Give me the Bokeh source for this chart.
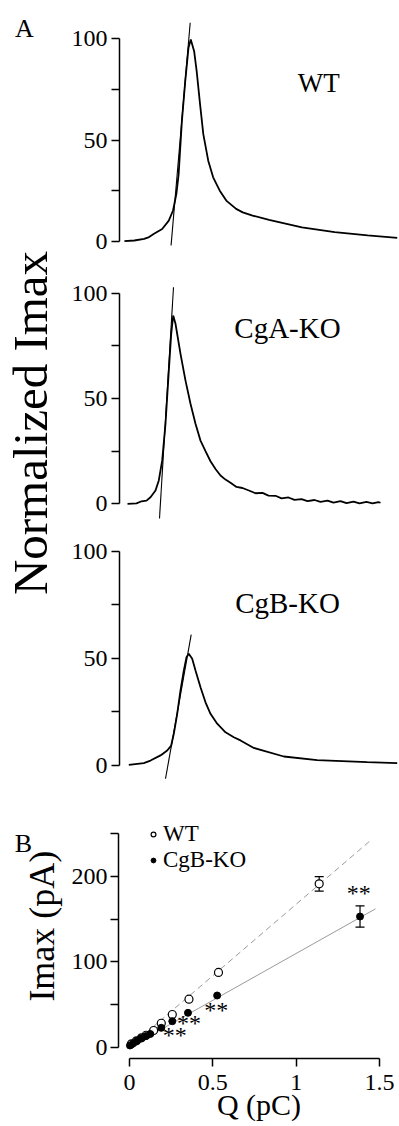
import math
from bokeh.plotting import figure
from bokeh.layouts import column, row
from bokeh.models import (Range1d, FixedTicker, ColumnDataSource, Whisker, TeeHead,
                          Legend, LegendItem)
from bokeh.core.properties import value
from bokeh.embed import file_html
from bokeh.resources import INLINE

FONT = "Liberation Serif"

# ---------------- Panel A: averaged normalized spikes (time in ms, % of max) -------------
wt_t = [0.5, 1.5, 2.5, 3.0, 3.5, 4.33, 5.0, 5.43, 5.77, 6.0, 6.33, 6.67, 7.0, 7.23, 7.57,
        7.83, 8.17, 8.5, 9.0, 9.5, 10.17, 10.83, 11.83, 12.5, 13.5, 15.17, 18.5, 21.83,
        25.17, 28.17]
wt_i = [0.2, 0.5, 1.3, 2.2, 3.8, 6.2, 10.3, 15.3, 23.5, 33.3, 59.6, 79.3, 95.7, 99.8, 94.0,
        84.0, 67.8, 53.0, 39.9, 31.7, 25.1, 20.2, 16.1, 14.4, 12.8, 10.7, 7.0, 4.6,
        3.0, 1.8]
wt_tan_t = [5.23, 7.17]
wt_tan_i = [-2.0, 108.0]

cga_t = [1.2, 2.1, 2.6, 3.1, 3.5, 4.0, 4.33, 4.67, 5.0, 5.33, 5.57, 5.77, 6.0, 6.5, 7.0,
         7.5, 8.0, 8.5, 9.0, 9.5, 10.0, 10.5, 11.0, 11.5, 12.1, 12.7, 13.4, 14.0, 14.7,
         15.3, 16.0, 16.6, 17.3, 17.9, 18.6, 19.2, 19.9, 20.5, 21.2, 21.8, 22.5, 23.1,
         23.8, 24.4, 25.1, 25.7, 26.3, 26.5]
cga_i = [0.0, 0.2, 1.2, 1.5, 3.1, 6.3, 11.1, 20.6, 38.0, 63.0, 80.7, 89.4, 85.5, 71.2, 58.5,
         47.5, 38.0, 30.0, 25.0, 20.2, 16.5, 13.4, 11.5, 10.0, 8.0, 7.5, 6.2, 5.0, 5.2,
         3.9, 3.8, 2.6, 3.0, 1.9, 2.2, 1.3, 1.8, 0.9, 1.5, 0.6, 1.3, 0.3,
         1.0, 0.2, 0.9, 0.2, 0.8, 0.5]
cga_tan_t = [4.4, 5.8]
cga_tan_i = [-7.0, 102.8]

cgb_t = [1.33, 2.83, 3.5, 4.5, 5.17, 5.57, 5.83, 6.17, 6.5, 6.83, 7.1, 7.33, 7.67, 8.0, 8.5,
         9.0, 9.5, 10.17, 11.0, 11.83, 12.5, 13.83, 16.83, 20.17, 25.17, 28.17]
cgb_i = [0.3, 1.1, 2.3, 4.7, 7.0, 9.3, 14.8, 24.1, 35.0, 44.3, 50.5, 52.1, 49.8, 44.3, 36.5,
         29.5, 24.1, 19.5, 15.5, 13.2, 11.7, 8.2, 4.2, 2.5, 1.6, 1.1]
cgb_tan_t = [5.0, 7.57]
cgb_tan_i = [-6.2, 61.1]

a_ticks = [0, 50, 100]
a_minor = [25, 75]

# ---------------- Panel B: Imax vs Q -------------
wt_q = [0.012, 0.042, 0.072, 0.10, 0.145, 0.191, 0.257, 0.357, 0.534, 1.138]
wt_imax = [4.0, 7.5, 11.0, 14.0, 19.6, 28.1, 38.3, 56.3, 87.6, 191.5]
wt_sem = [0, 0, 0, 0, 0, 0, 0, 0, 0, 8.5]
kb_q = [0.003, 0.022, 0.045, 0.07, 0.098, 0.125, 0.191, 0.257, 0.351, 0.526, 1.383]
kb_imax = [2.0, 4.5, 7.5, 10.5, 13.0, 15.5, 22.7, 30.5, 40.3, 60.6, 153.2]
kb_sem = [0, 0, 0, 0, 0, 0, 0, 0, 0, 0, 12.5]
fit_wt_q = [0.0, 1.45]
fit_wt_i = [0.0, 243.0]
fit_kb_q = [0.0, 1.476]
fit_kb_i = [0.0, 162.2]
sig_q = [1.376, 0.52, 0.357, 0.271]
sig_i = [181.7, 45.0, 29.3, 15.7]
sig_text = ["**", "**", "**", "**"]
b_xticks = [0, 0.5, 1, 1.5]
b_xlabels = ["0", "0.5", "1", "1.5"]
b_yticks = [0, 100, 200]
b_yminor = [50, 150, 250]


def style_axis(ax, size="24px", standoff=4):
    ax.axis_line_color = "black"
    ax.axis_line_width = 1.5
    ax.major_tick_line_color = "black"
    ax.minor_tick_line_color = "black"
    ax.major_tick_line_width = 1.5
    ax.minor_tick_line_width = 1.5
    ax.major_tick_in = 0
    ax.minor_tick_in = 0
    ax.major_tick_out = 8
    ax.minor_tick_out = 8
    ax.major_label_text_font = FONT
    ax.major_label_text_font_size = size
    ax.major_label_text_color = "black"
    ax.major_label_standoff = standoff


def bare(p):
    p.grid.visible = False
    p.outline_line_color = None
    p.background_fill_color = "white"
    p.border_fill_color = "white"


def trace_fig(t, i, tt, ti, label, lab_t, lab_i, lab_size, height, ylo, yhi, left, xlo):
    p = figure(width=336, height=height, x_range=Range1d(xlo, 28.4),
               y_range=Range1d(ylo, yhi), toolbar_location=None, output_backend="svg",
               x_axis_location=None, y_axis_location="left",
               min_border_left=left, min_border_right=0, min_border_top=0,
               min_border_bottom=0)
    bare(p)
    ax = p.yaxis[0]
    ax.ticker = FixedTicker(ticks=a_ticks, minor_ticks=a_minor)
    ax.bounds = (0, 100)
    style_axis(ax)
    p.line(tt, ti, line_color="black", line_width=1.1)
    p.line(t, i, line_color="black", line_width=1.8)
    p.text(x=[lab_t], y=[lab_i], text=[label], text_font=value(FONT),
           text_font_size=value(lab_size), text_align="center",
           text_baseline="middle", text_color="black")
    return p


pA1 = trace_fig(wt_t, wt_i, wt_tan_t, wt_tan_i, "WT", 20.2, 78.5, "27px",
                262, -10.37, 119.01, 52, 0.0)
pA2 = trace_fig(cga_t, cga_i, cga_tan_t, cga_tan_i, "CgA-KO", 17.2, 83.7, "29px",
                268, -12.68, 114.58, 56, 0.4)
pA3 = trace_fig(cgb_t, cgb_i, cgb_tan_t, cgb_tan_i, "CgB-KO", 17.2, 75.6, "29px",
                260, -11.67, 109.66, 56, 0.4)

labA = figure(width=63, height=790, x_range=Range1d(0, 63), y_range=Range1d(0, 790),
              toolbar_location=None, output_backend="svg", x_axis_location=None,
              y_axis_location=None, min_border=0)
bare(labA)
labA.text(x=[24], y=[762.5], text=["A"], text_font=value(FONT), text_font_size=value("26px"),
          text_align="center", text_baseline="middle", text_color="black")
labA.text(x=[29.5], y=[367.5], text=["Normalized Imax"], angle=math.pi / 2,
          text_font=value(FONT), text_font_size=value("49px"), text_align="center",
          text_baseline="middle", text_color="black")

# ---------------- Panel B figure -------------
pB = figure(width=331, height=336, x_range=Range1d(-0.0657, 1.6198),
            y_range=Range1d(-13.25, 271.6), toolbar_location=None, output_backend="svg",
            min_border_left=49, min_border_right=0, min_border_top=25,
            min_border_bottom=68)
bare(pB)
xa = pB.xaxis[0]
xa.ticker = FixedTicker(ticks=b_xticks)
xa.bounds = (0, 1.5)
xa.major_label_overrides = {float(k): s for k, s in zip(b_xticks, b_xlabels)}
style_axis(xa, standoff=8)
xa.axis_label = "Q (pC)"
xa.axis_label_text_font = FONT
xa.axis_label_text_font_size = "30px"
xa.axis_label_text_font_style = "normal"
xa.axis_label_text_color = "black"
xa.axis_label_standoff = -5

ya = pB.yaxis[0]
ya.ticker = FixedTicker(ticks=b_yticks, minor_ticks=b_yminor)
ya.bounds = (0, 250)
style_axis(ya, standoff=3)

pB.line(fit_wt_q, fit_wt_i, line_color="#9a9a9a", line_width=1, line_dash="6 4")
pB.line(fit_kb_q, fit_kb_i, line_color="#9a9a9a", line_width=1)

for qs, ims, sems in ((wt_q, wt_imax, wt_sem), (kb_q, kb_imax, kb_sem)):
    idx = [k for k, s in enumerate(sems) if s > 0]
    src = ColumnDataSource(dict(q=[qs[k] for k in idx],
                                up=[ims[k] + sems[k] for k in idx],
                                lo=[ims[k] - sems[k] for k in idx]))
    pB.add_layout(Whisker(base="q", upper="up", lower="lo", source=src, dimension="height",
                          line_color="black", line_width=1.2,
                          upper_head=TeeHead(size=9, line_color="black", line_width=1.2),
                          lower_head=TeeHead(size=9, line_color="black", line_width=1.2)))

r_wt = pB.scatter(wt_q, wt_imax, marker="circle", size=8, fill_color="white",
                  line_color="black", line_width=1.2)
r_kb = pB.scatter(kb_q, kb_imax, marker="circle", size=7, fill_color="black",
                  line_color="black", line_width=1)
pB.text(x=sig_q, y=sig_i, text=sig_text, text_font=value(FONT),
        text_font_size=value("24px"), text_align="center", text_baseline="middle",
        y_offset=1, text_color="black")

legend = Legend(items=[LegendItem(label="WT", renderers=[r_wt]),
                       LegendItem(label="CgB-KO", renderers=[r_kb])],
                location=(29, 185), padding=0, spacing=0, margin=0,
                border_line_color=None, background_fill_alpha=0,
                glyph_width=12, glyph_height=24, label_height=24, label_standoff=4,
                label_text_font=FONT, label_text_font_size="23px",
                label_text_color="black")
pB.add_layout(legend)

labB = figure(width=68, height=336, x_range=Range1d(0, 68), y_range=Range1d(0, 336),
              toolbar_location=None, output_backend="svg", x_axis_location=None,
              y_axis_location=None, min_border=0)
bare(labB)
labB.text(x=[23], y=[297], text=["B"], text_font=value(FONT), text_font_size=value("26px"),
          text_align="center", text_baseline="middle", text_color="black")
labB.text(x=[41.5], y=[183], text=["Imax (pA)"], angle=math.pi / 2, text_font=value(FONT),
          text_font_size=value("36px"), text_align="center", text_baseline="middle",
          text_color="black")

layout = column(row(labA, column(pA1, pA2, pA3)), row(labB, pB))

open("out.html", "w").write(file_html(layout, INLINE))
